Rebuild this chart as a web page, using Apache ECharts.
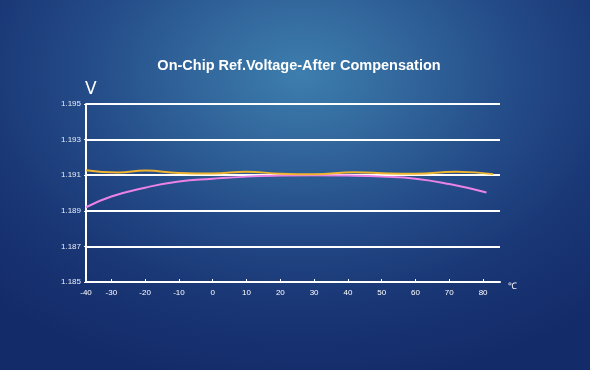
<!DOCTYPE html>
<html>
<head>
<meta charset="utf-8">
<script src="https://cdn.jsdelivr.net/npm/echarts@6/dist/echarts.min.js"></script>
<style>
html,body{margin:0;padding:0;width:590px;height:370px;overflow:hidden;}
body{background:radial-gradient(ellipse 75% 85% at 51% 20%, #3d7eae 0%, #33689d 22%, #244c88 48%, #1a3776 72%, #142b69 100%);}
#chart{width:590px;height:370px;}
</style>
</head>
<body>
<div id="chart"></div>
<script>
const title = 'On-Chip Ref.Voltage-After Compensation';
const xTickValues = [-37.5, -30, -20, -10, 0, 10, 20, 30, 40, 50, 60, 70, 80];
const xTickLabels = ['-40', '-30', '-20', '-10', '0', '10', '20', '30', '40', '50', '60', '70', '80'];
const pinkTemps = [-37.5, -30, -20, -10, 0, 10, 20, 30, 40, 50, 60, 70, 81];
const pinkVolts = [1.1892, 1.1898, 1.1903, 1.19065, 1.1908, 1.19092, 1.19098, 1.191, 1.19098, 1.19092, 1.1908, 1.1905, 1.19003];
const yellowTemps = [-37.5, -28, -20, -10, 0, 10, 20, 30, 42, 52, 60, 72, 83];
const yellowVolts = [1.19128, 1.19115, 1.19126, 1.19113, 1.1911, 1.1912, 1.19108, 1.19105, 1.19117, 1.1911, 1.19108, 1.1912, 1.19106];

const chart = echarts.init(document.getElementById('chart'));
const zip = (a, b) => a.map((v, i) => [v, b[i]]);
chart.setOption({
  backgroundColor: 'transparent',
  animation: false,
  title: {
    text: title, left: 294, top: 53, textAlign: 'center',
    textStyle: {color: '#ffffff', fontSize: 14.5, fontWeight: 'bold', fontFamily: 'Liberation Sans, Arial, sans-serif'}
  },
  grid: {left: 86, right: 90, top: 104, bottom: 88, containLabel: false},
  xAxis: {
    type: 'value', min: -37.5, max: 85,
    name: '℃', nameLocation: 'end', nameGap: 8,
    nameTextStyle: {color: '#ffffff', fontSize: 9, verticalAlign: 'top', padding: [0, 0, 0, 0]},
    axisLine: {onZero: false, lineStyle: {color: '#ffffff', width: 2}},
    axisTick: {show: true, customValues: xTickValues, length: 3, inside: true, lineStyle: {color: '#ffffff', width: 1}},
    axisLabel: {customValues: xTickValues, color: '#ffffff', fontSize: 8, margin: 7,
      formatter: v => { const i = xTickValues.indexOf(v); return i >= 0 ? xTickLabels[i] : ''; }},
    splitLine: {show: false}
  },
  yAxis: {
    type: 'value', min: 1.185, max: 1.195, interval: 0.002,
    name: 'V', nameLocation: 'end', nameGap: 6,
    nameTextStyle: {color: '#ffffff', fontSize: 17, align: 'left', padding: [0, 0, 0, -1], fontFamily: 'DejaVu Sans, sans-serif', fontWeight: 'normal'},
    axisLine: {show: true, onZero: false, lineStyle: {color: '#ffffff', width: 2}},
    axisTick: {show: true, length: 2, lineStyle: {color: '#ffffff'}},
    axisLabel: {color: '#e8eef8', fontSize: 8, margin: 5, formatter: v => v.toFixed(3)},
    splitLine: {show: true, lineStyle: {color: '#ffffff', width: 2}}
  },
  series: [
    {type: 'line', data: zip(pinkTemps, pinkVolts), smooth: 0.5, showSymbol: false,
      lineStyle: {color: '#ec82e6', width: 2}, z: 3},
    {type: 'line', data: zip(yellowTemps, yellowVolts), smooth: 0.5, showSymbol: false,
      lineStyle: {color: '#f0b530', width: 2}, z: 4}
  ]
});
</script>
</body>
</html>
